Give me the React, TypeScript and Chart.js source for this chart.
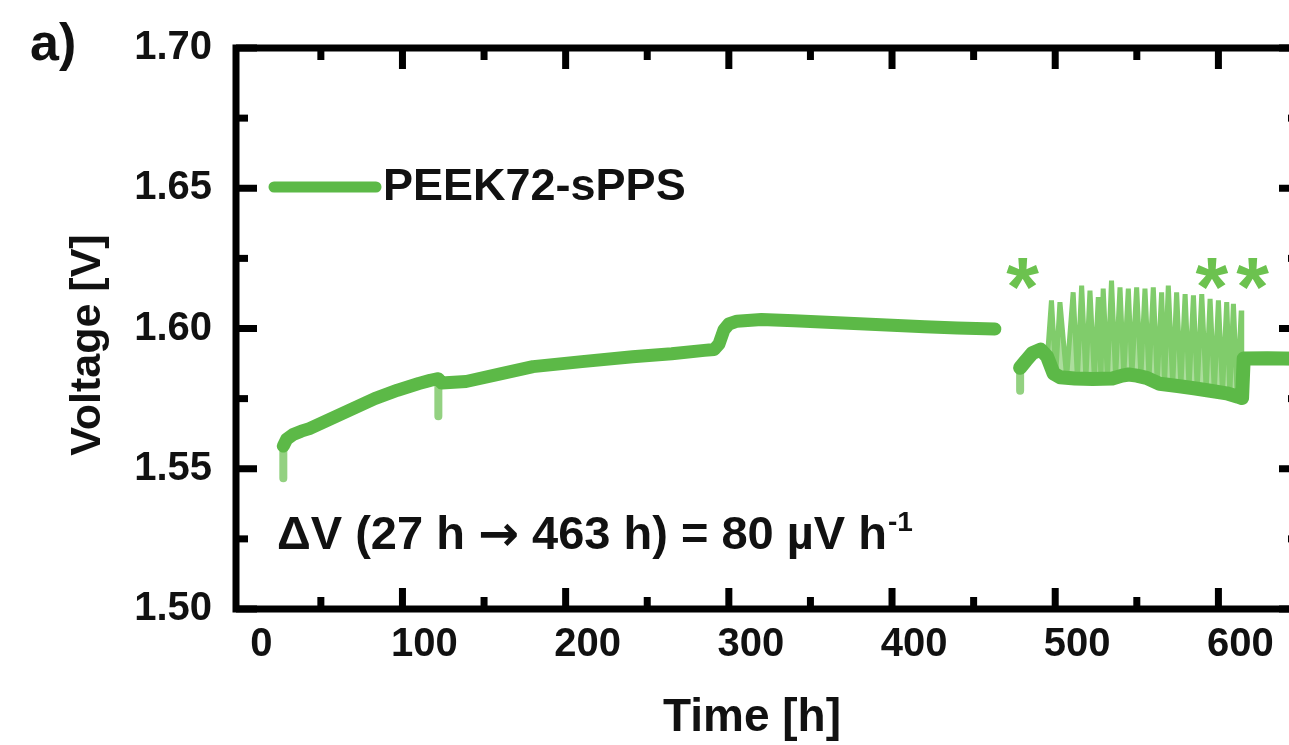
import React, { useEffect, useRef } from "react";
import { Chart, registerables } from "chart.js";

Chart.register(...registerables);

// ---------------- data ----------------
const seriesName = "PEEK72-sPPS";

// first run, 27 h -> 463 h
const seg1Time = [27, 29, 33, 38, 43, 55, 70, 83, 97, 110, 117, 122, 124, 139, 160, 180, 210, 241, 265, 285, 291, 294, 297, 300, 305, 320, 340, 360, 380, 400, 420, 440, 463];
const seg1Volt = [1.5581, 1.5605, 1.5622, 1.5634, 1.5643, 1.5675, 1.5715, 1.575, 1.578, 1.5804, 1.5815, 1.5821, 1.5806, 1.5811, 1.5838, 1.5864, 1.5882, 1.5899, 1.591, 1.5922, 1.5925, 1.5945, 1.5995, 1.6016, 1.6026, 1.6032, 1.6028, 1.6022, 1.6017, 1.6012, 1.6006, 1.6002, 1.5998];

// second run, restart after the gap (lower envelope and steady end)
const seg2Time = [478.5, 482, 486, 491, 495, 499, 503, 512, 523, 535, 541, 545, 550, 556, 564, 575, 585, 595, 605, 612, 614.5, 615.5, 630, 650];
const seg2Volt = [1.586, 1.5885, 1.5912, 1.5925, 1.59, 1.584, 1.5826, 1.5822, 1.582, 1.5822, 1.5832, 1.5836, 1.5832, 1.5824, 1.5803, 1.5795, 1.5787, 1.5778, 1.5769, 1.5757, 1.5752, 1.5893, 1.5894, 1.5892];

// short downward spikes at the restarts
const spikeTime = [27, 27, null, 122, 122, null, 478.5, 478.5];
const spikeVolt = [1.5581, 1.5466, null, 1.5815, 1.5687, null, 1.586, 1.5778];

// cycling section between * and **
const cycTime = [495, 497.7, 500.3, 502.9, 507, 511, 513.6, 516.2, 518.8, 521.3, 524, 526.4, 528, 529.4, 532, 534.5, 537, 539.7, 542, 544.8, 547, 549.9, 552.5, 555, 557.5, 560.1, 562.5, 565.2, 567, 569.3, 572, 574.4, 577, 579.6, 582, 584.7, 587, 589.8, 592.5, 594.9, 597.5, 600, 602.5, 605.1, 607, 609.2, 611.5, 614, 614.3];
const cycVolt = [1.588, 1.61, 1.5835, 1.6094, 1.5826, 1.6129, 1.5823, 1.6153, 1.5822, 1.6135, 1.582, 1.6112, 1.5821, 1.6142, 1.5822, 1.6171, 1.5826, 1.6147, 1.5832, 1.6142, 1.5836, 1.6147, 1.583, 1.6142, 1.5822, 1.6147, 1.5808, 1.6129, 1.58, 1.6153, 1.5797, 1.6129, 1.5793, 1.6123, 1.5789, 1.6118, 1.5784, 1.6123, 1.578, 1.6106, 1.5775, 1.61, 1.5771, 1.6094, 1.5766, 1.6088, 1.5758, 1.6064, 1.5752];

// asterisk markers
const starTime = [480, 596, 621];
const starVolt = [1.6193, 1.6193, 1.6193];

// axes
const xMin = -2;
const xMax = 650;
const xTickValues = [0, 50, 100, 150, 200, 250, 300, 350, 400, 450, 500, 550, 600, 650];
const xLabelValues = [0, 100, 200, 300, 400, 500, 600];
const yMin = 1.5;
const yMax = 1.7;
const yTickValues = [1.5, 1.525, 1.55, 1.575, 1.6, 1.625, 1.65, 1.675, 1.7];
const yLabelValues = ["1.50", "1.55", "1.60", "1.65", "1.70"];

// texts
const panelLabel = "a)";
const xTitle = "Time [h]";
const yTitle = "Voltage [V]";
const notePre = "\u0394V (27 h ";
const noteArrow = "\u2192";
const notePost = " 463 h) = 80 \u00b5V h";
const noteSup = "-1";

// ---------------- styles ----------------
const FONT = '"Liberation Sans", Arial, Helvetica, sans-serif';
const GREEN = "#5cb947";
const GREEN_MID = "#80cc6b";
const GREEN_LIGHT = "#93d181";
const GREEN_FILL = "#acdd9d";
const STAR = "#6cc24f";

const pts = (xs: (number | null)[], ys: (number | null)[]) =>
  xs.map((x, i) => ({ x: x as number, y: ys[i] as number }));

const decor = {
  id: "decor",
  afterDatasetsDraw(chart: any) {
    const { ctx, chartArea: ca, scales } = chart;
    const xs = scales.x;
    const ys = scales.y;
    ctx.save();
    // ticks (inward)
    ctx.fillStyle = "#000";
    const tw = 7;
    xs.ticks.forEach((t: any) => {
      const v = t.value;
      if (v <= 0) return;
      const px = xs.getPixelForValue(v);
      const len = xLabelValues.includes(v) ? 21 : 12;
      ctx.fillRect(px - tw / 2, ca.bottom - len, tw, len);
      ctx.fillRect(px - tw / 2, ca.top, tw, len);
    });
    ys.ticks.forEach((t: any) => {
      const py = ys.getPixelForValue(t.value);
      const len = Math.round(t.value * 1000) % 50 === 0 ? 21 : 12;
      ctx.fillRect(ca.left, py - tw / 2, len, tw);
      ctx.fillRect(ca.right - len, py - tw / 2, len, tw);
    });
    // frame
    ctx.strokeStyle = "#000";
    ctx.lineWidth = 7;
    ctx.strokeRect(ca.left, ca.top, ca.right - ca.left, ca.bottom - ca.top);

    // asterisks
    ctx.fillStyle = STAR;
    ctx.font = `bold 84px ${FONT}`;
    ctx.textAlign = "center";
    ctx.textBaseline = "alphabetic";
    starTime.forEach((t, i) => {
      const m = ctx.measureText("*");
      const cx = xs.getPixelForValue(t);
      const cy = ys.getPixelForValue(starVolt[i]);
      const off = (m.actualBoundingBoxAscent - m.actualBoundingBoxDescent) / 2;
      ctx.fillText("*", cx, cy + off);
    });

    // legend
    const ly = ca.top + 139;
    ctx.strokeStyle = GREEN;
    ctx.lineWidth = 11;
    ctx.lineCap = "round";
    ctx.beginPath();
    ctx.moveTo(ca.left + 38, ly);
    ctx.lineTo(ca.left + 140, ly);
    ctx.stroke();
    ctx.fillStyle = "#111";
    ctx.font = `bold 45px ${FONT}`;
    ctx.textAlign = "left";
    ctx.textBaseline = "middle";
    ctx.fillText(seriesName, ca.left + 147, ly + 1);

    // note
    let nx = ca.left + 41;
    const ny = 536;
    ctx.font = `bold 47px ${FONT}`;
    ctx.fillText(notePre, nx, ny);
    nx += ctx.measureText(notePre).width;
    ctx.font = `bold 49px "DejaVu Sans", ${FONT}`;
    ctx.fillText(noteArrow, nx, ny + 1);
    nx += ctx.measureText(noteArrow).width;
    ctx.font = `bold 47px ${FONT}`;
    ctx.fillText(notePost, nx, ny);
    nx += ctx.measureText(notePost).width;
    ctx.font = `bold 28px ${FONT}`;
    ctx.fillText(noteSup, nx + 1, ny - 13);

    // titles
    ctx.font = `bold 46px ${FONT}`;
    ctx.textAlign = "center";
    ctx.textBaseline = "middle";
    ctx.fillText(xTitle, 752, 718);
    ctx.save();
    ctx.translate(88, 345);
    ctx.rotate(-Math.PI / 2);
    ctx.font = `bold 43px ${FONT}`;
    ctx.fillText(yTitle, 0, 0);
    ctx.restore();

    ctx.font = `bold 52px ${FONT}`;
    ctx.textAlign = "left";
    ctx.fillText(panelLabel, 30, 46);
    ctx.restore();
  },
};

export default function App() {
  const ref = useRef<HTMLCanvasElement | null>(null);

  useEffect(() => {
    if (!ref.current) return;
    const lineBase = {
      pointRadius: 0,
      tension: 0,
      borderJoinStyle: "round" as const,
      borderCapStyle: "round" as const,
      spanGaps: false,
    };
    const chart = new Chart(ref.current, {
      type: "line",
      data: {
        datasets: [
          {
            ...lineBase,
            label: seriesName,
            data: pts(seg1Time, seg1Volt),
            borderColor: GREEN,
            borderWidth: 13,
            fill: false,
            order: 1,
          },
          {
            ...lineBase,
            label: seriesName + " (2)",
            data: pts(seg2Time, seg2Volt),
            borderColor: GREEN,
            borderWidth: 14,
            fill: false,
            order: 0,
          },
          {
            ...lineBase,
            label: "spikes",
            data: pts(spikeTime, spikeVolt),
            borderColor: GREEN_LIGHT,
            borderWidth: 8,
            fill: false,
            order: 2,
          },
          {
            ...lineBase,
            label: "cycling",
            data: pts(cycTime, cycVolt),
            borderColor: GREEN_MID,
            borderWidth: 5,
            borderJoinStyle: "miter" as const,
            backgroundColor: GREEN_FILL,
            fill: { target: 1 },
            order: 3,
          },
        ],
      },
      options: {
        responsive: false,
        animation: false,
        devicePixelRatio: 1,
        layout: { padding: { left: 0, top: 44, right: 20, bottom: 0 } },
        plugins: {
          legend: { display: false },
          tooltip: { enabled: false },
          title: { display: false },
        },
        scales: {
          x: {
            type: "linear",
            min: xMin,
            max: xMax,
            grid: { display: false, drawTicks: false },
            border: { display: false },
            afterFit: (s: any) => {
              s.height = 136;
            },
            afterBuildTicks: (s: any) => {
              s.ticks = xTickValues.map((v) => ({ value: v }));
            },
            ticks: {
              autoSkip: false,
              maxRotation: 0,
              minRotation: 0,
              labelOffset: 22,
              padding: 12,
              color: "#111",
              font: { family: FONT, size: 40, weight: "bold" },
              callback: (v: any) => (xLabelValues.includes(Number(v)) ? String(v) : ""),
            },
          },
          y: {
            type: "linear",
            min: yMin,
            max: yMax,
            grid: { display: false, drawTicks: false },
            border: { display: false },
            afterFit: (s: any) => {
              s.width = 236;
            },
            afterBuildTicks: (s: any) => {
              s.ticks = yTickValues.map((v) => ({ value: v }));
            },
            ticks: {
              autoSkip: false,
              padding: 24,
              color: "#111",
              font: { family: FONT, size: 40, weight: "bold" },
              callback: (v: any) => {
                const s = Number(v).toFixed(2);
                return Math.round(Number(v) * 1000) % 50 === 0 && yLabelValues.includes(s) ? s : "";
              },
            },
          },
        },
      },
      plugins: [decor],
    });
    return () => chart.destroy();
  }, []);

  return (
    <div style={{ position: "fixed", left: 0, top: 0, width: 1289, height: 745, overflow: "hidden", background: "#fff" }}>
      <canvas ref={ref} width={1320} height={745} style={{ display: "block", width: 1320, height: 745 }} />
    </div>
  );
}
